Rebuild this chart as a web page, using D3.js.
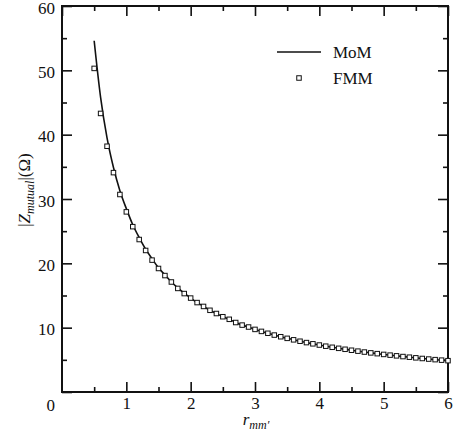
<!DOCTYPE html>
<html>
<head>
<meta charset="utf-8">
<script src="https://cdn.jsdelivr.net/npm/d3@7"></script>
<style>
  html, body { margin: 0; padding: 0; background: #fff; }
  svg { display: block; }
  text { font-family: "Liberation Serif", "Times New Roman", serif; fill: #111; }
</style>
</head>
<body>
<svg id="chart" width="468" height="438"></svg>
<script>
// ---- data ----
const rValues = [0.5,0.6,0.7,0.8,0.9,1.0,1.1,1.2,1.3,1.4,1.5,1.6,1.7,1.8,1.9,2.0,2.1,2.2,2.3,2.4,2.5,2.6,2.7,2.8,2.9,3.0,3.1,3.2,3.3,3.4,3.5,3.6,3.7,3.8,3.9,4.0,4.1,4.2,4.3,4.4,4.5,4.6,4.7,4.8,4.9,5.0,5.1,5.2,5.3,5.4,5.5,5.6,5.7,5.8,5.9,6.0];
const fmmValues = [50.3,43.3,38.2,34.1,30.7,28.0,25.7,23.7,22.0,20.5,19.2,18.1,17.1,16.1,15.3,14.6,13.9,13.3,12.7,12.2,11.7,11.3,10.8,10.4,10.1,9.73,9.42,9.13,8.85,8.59,8.34,8.11,7.89,7.68,7.49,7.30,7.12,6.95,6.79,6.64,6.49,6.35,6.21,6.08,5.96,5.84,5.73,5.62,5.51,5.41,5.31,5.21,5.12,5.03,4.95,4.87];
const momValues = [54.6,45.8,39.5,34.9,31.3,28.5,26.0,24.0,22.2,20.7,19.3,18.2,17.1,16.2,15.35,14.6,13.9,13.3,12.7,12.2,11.7,11.3,10.8,10.4,10.1,9.73,9.42,9.13,8.85,8.59,8.34,8.11,7.89,7.68,7.49,7.30,7.12,6.95,6.79,6.64,6.49,6.35,6.21,6.08,5.96,5.84,5.73,5.62,5.51,5.41,5.31,5.21,5.12,5.03,4.95,4.87];
const xMajorTicks = [0,1,2,3,4,5,6];
const xMinorTicks = [0.5,1.5,2.5,3.5,4.5,5.5];
const yMajorTicks = [0,10,20,30,40,50,60];
const yMinorTicks = [5,15,25,35,45,55];
const seriesNames = ["MoM", "FMM"];

// ---- layout ----
const svg = d3.select("#chart");
const mLeft = 62, mRight = 448, mTop = 6, mBottom = 392;
const x = d3.scaleLinear().domain([0, 6]).range([mLeft, mRight]);
const y = d3.scaleLinear().domain([0, 60]).range([mBottom, mTop]);

function styleAxis(g) {
  g.select(".domain").remove();
  g.selectAll(".tick line").attr("stroke", "#111").attr("stroke-width", 1.6);
  g.selectAll(".tick text").attr("font-size", 17).attr("fill", "#111")
    .style("font-family", '"Liberation Serif", "Times New Roman", serif');
}

// bottom axis
svg.append("g").attr("transform", `translate(0,${mBottom})`)
  .call(d3.axisBottom(x).tickValues(xMajorTicks.filter(d => d > 0)).tickSize(-10).tickPadding(5).tickFormat(d3.format("d")))
  .call(styleAxis);
svg.append("g").attr("transform", `translate(0,${mBottom})`)
  .call(d3.axisBottom(x).tickValues(xMinorTicks).tickSize(-5).tickFormat(""))
  .call(styleAxis);
// top axis
svg.append("g").attr("transform", `translate(0,${mTop})`)
  .call(d3.axisTop(x).tickValues(xMajorTicks).tickSize(-10).tickFormat(""))
  .call(styleAxis);
svg.append("g").attr("transform", `translate(0,${mTop})`)
  .call(d3.axisTop(x).tickValues(xMinorTicks).tickSize(-5).tickFormat(""))
  .call(styleAxis);
// left axis
const gLeft = svg.append("g").attr("transform", `translate(${mLeft},0)`)
  .call(d3.axisLeft(y).tickValues(yMajorTicks).tickSize(-10).tickPadding(7).tickFormat(d3.format("d")))
  .call(styleAxis);
gLeft.selectAll(".tick text").attr("dy", "0.42em");
gLeft.selectAll(".tick text").filter(d => d === 0).attr("dy", "1.1em");
svg.append("g").attr("transform", `translate(${mLeft},0)`)
  .call(d3.axisLeft(y).tickValues(yMinorTicks).tickSize(-5).tickFormat(""))
  .call(styleAxis);
// right axis
svg.append("g").attr("transform", `translate(${mRight},0)`)
  .call(d3.axisRight(y).tickValues(yMajorTicks).tickSize(-10).tickFormat(""))
  .call(styleAxis);
svg.append("g").attr("transform", `translate(${mRight},0)`)
  .call(d3.axisRight(y).tickValues(yMinorTicks).tickSize(-5).tickFormat(""))
  .call(styleAxis);

// frame
svg.append("rect").attr("x", mLeft).attr("y", mTop)
  .attr("width", mRight - mLeft).attr("height", mBottom - mTop)
  .attr("fill", "none").attr("stroke", "#111").attr("stroke-width", 2);

// MoM line
const line = d3.line().x((d, i) => x(rValues[i])).y(d => y(d)).curve(d3.curveMonotoneX);
svg.append("path").datum(momValues)
  .attr("d", line).attr("fill", "none").attr("stroke", "#111").attr("stroke-width", 1.6);

// FMM squares
const sq = 4.5;
svg.append("g").selectAll("rect").data(fmmValues).join("rect")
  .attr("x", (d, i) => x(rValues[i]) - sq / 2)
  .attr("y", d => y(d) - sq / 2)
  .attr("width", sq).attr("height", sq)
  .attr("fill", "#fff").attr("stroke", "#111").attr("stroke-width", 1);

// legend
const lg = svg.append("g");
lg.append("line").attr("x1", 277).attr("x2", 321).attr("y1", 52).attr("y2", 52)
  .attr("stroke", "#111").attr("stroke-width", 1.6);
lg.append("text").attr("x", 333).attr("y", 58).attr("font-size", 17).text(seriesNames[0]);
lg.append("rect").attr("x", 299 - sq / 2).attr("y", 78 - sq / 2).attr("width", sq).attr("height", sq)
  .attr("fill", "#fff").attr("stroke", "#111").attr("stroke-width", 1);
lg.append("text").attr("x", 333).attr("y", 84).attr("font-size", 17).text(seriesNames[1]);

// x label
const xl = svg.append("text").attr("x", 256).attr("y", 425).attr("text-anchor", "middle").attr("font-size", 17);
xl.append("tspan").attr("font-style", "italic").text("r");
xl.append("tspan").attr("font-style", "italic").attr("font-size", 12).attr("dy", 4).text("mm′");

// y label
const yl = svg.append("text").attr("transform", "translate(30,190) rotate(-90)")
  .attr("text-anchor", "middle").attr("font-size", 17);
yl.append("tspan").text("|");
yl.append("tspan").attr("font-style", "italic").text("Z");
yl.append("tspan").attr("font-style", "italic").attr("font-size", 12).attr("dy", 4).text("mutual");
yl.append("tspan").attr("dy", -4).text("|(Ω)");
</script>
</body>
</html>
